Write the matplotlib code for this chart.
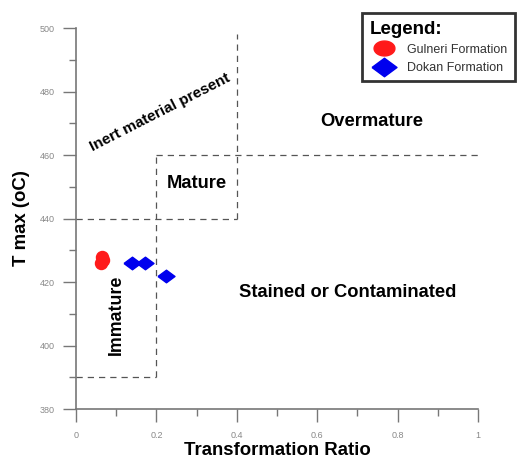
import matplotlib
matplotlib.use("Agg")
import numpy as np
import matplotlib.pyplot as plt
from matplotlib.ticker import MultipleLocator, FuncFormatter
from matplotlib.lines import Line2D

plt.rcParams['font.family'] = ['Liberation Sans', 'DejaVu Sans']

# Data
gulneri_tr = [0.065, 0.062, 0.066]
gulneri_tmax = [428, 426, 427]
dokan_tr = [0.14, 0.172, 0.223]
dokan_tmax = [426, 426, 422]

# Zone boundaries (x, y)
boundaries = [
    ([0.4, 0.4], [440, 498]),
    ([0.0, 0.4], [440, 440]),
    ([0.2, 0.2], [390, 460]),
    ([0.2, 1.0], [460, 460]),
    ([0.0, 0.2], [390, 390]),
]

# marker shapes
flat_diamond = [(-1.35, 0), (0, 1), (1.35, 0), (0, -1), (-1.35, 0)]
_t = np.linspace(0, 2 * np.pi, 60)
ellipse = list(zip(1.4 * np.cos(_t), np.sin(_t)))

fig = plt.figure(figsize=(5.18, 4.61), dpi=100)
ax = fig.add_axes([76/518, 1-409/461, 402/518, 381/461])
ax.set_xlim(0, 1)
ax.set_ylim(380, 500)

for xs, ys in boundaries:
    ax.plot(xs, ys, ls=(0, (5, 4)), color='#555555', lw=0.9)

ax.scatter(gulneri_tr, gulneri_tmax, s=75, color='#ff1a1a', marker='o', zorder=3)
ax.scatter(dokan_tr, dokan_tmax, s=150, color='#0000ee', marker=flat_diamond, zorder=3)

for s in ['top', 'right']:
    ax.spines[s].set_visible(False)
for s in ['left', 'bottom']:
    ax.spines[s].set_color('#777777')
    ax.spines[s].set_linewidth(1.2)

ax.xaxis.set_major_locator(MultipleLocator(0.2))
ax.xaxis.set_minor_locator(MultipleLocator(0.1))
ax.yaxis.set_major_locator(MultipleLocator(20))
ax.yaxis.set_minor_locator(MultipleLocator(10))
ax.xaxis.set_major_formatter(FuncFormatter(lambda v, p: '0' if abs(v) < 1e-9 else ('1' if abs(v-1) < 1e-9 else f'{v:.1f}')))
ax.tick_params(which='major', length=9.5, width=1, color='#777777', labelsize=6.5, labelcolor='#888888', pad=6)
ax.tick_params(which='minor', length=5, width=1, color='#777777')

ax.set_xlabel('Transformation Ratio', fontsize=13.4, fontweight='bold', labelpad=2)
ax.set_ylabel('T max (oC)', fontsize=13.4, fontweight='bold', labelpad=7)

ax.text(0.209, 473.5, 'Inert material present', fontsize=11, fontweight='bold', rotation=27,
        ha='center', va='center', rotation_mode='anchor')
ax.text(0.30, 451, 'Mature', fontsize=13.2, fontweight='bold', ha='center', va='center')
ax.text(0.736, 470.7, 'Overmature', fontsize=13.2, fontweight='bold', ha='center', va='center')
ax.text(0.677, 416.8, 'Stained or Contaminated', fontsize=13.2, fontweight='bold', ha='center', va='center')
ax.text(0.10, 409.6, 'Immature', fontsize=12.8, fontweight='bold', rotation=90, ha='center', va='center')

handles = [
    Line2D([], [], ls='', marker=ellipse, color='#ff1a1a', markersize=15, label='Gulneri Formation'),
    Line2D([], [], ls='', marker=flat_diamond, color='#0000ee', markersize=18, label='Dokan Formation'),
]
leg = fig.legend(handles=handles, loc='upper left', bbox_to_anchor=(362/518, 1-13/461),
                 title='Legend:', title_fontproperties={'weight': 'bold', 'size': 13.5},
                 fontsize=9, frameon=True, fancybox=False, borderpad=0.6, borderaxespad=0,
                 handletextpad=0.7, handlelength=2.3, labelspacing=0.5, alignment='left')
for t in leg.get_texts():
    t.set_color('#333333')
leg.get_frame().set_edgecolor('black')
leg.get_frame().set_linewidth(2)

fig.savefig('out.png', dpi=100)
